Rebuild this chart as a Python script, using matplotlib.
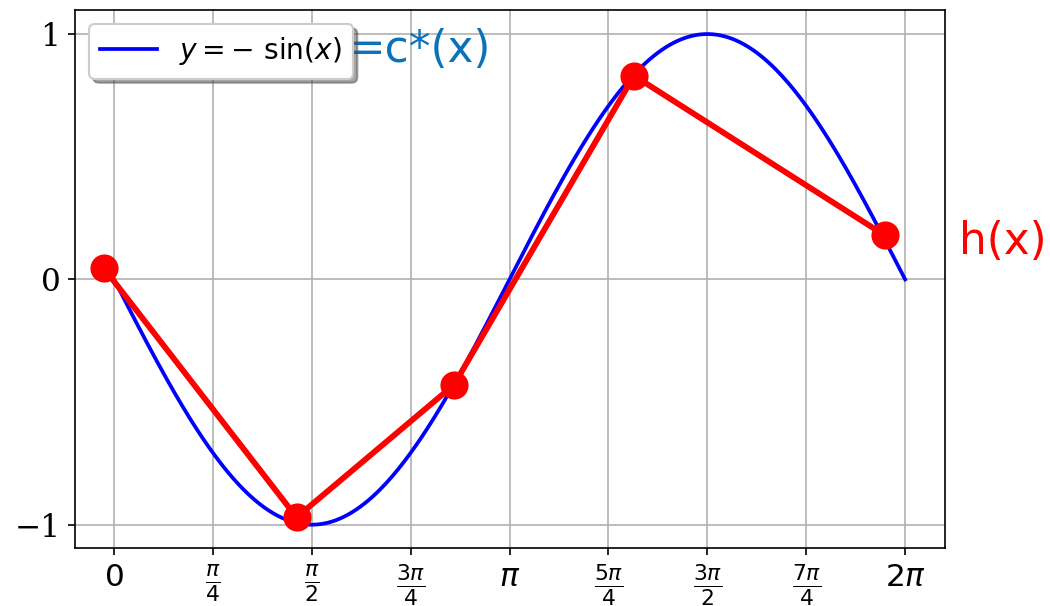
import numpy as np
import matplotlib
import matplotlib.pyplot as plt

matplotlib.use("Agg")

# red sample points h(x)
h_x = [-0.08, 1.45, 2.70, 4.13, 6.12]
h_y = [0.045, -0.97, -0.43, 0.83, 0.18]

x_ticks = [0, np.pi / 4, np.pi / 2, 3 * np.pi / 4, np.pi,
           5 * np.pi / 4, 3 * np.pi / 2, 7 * np.pi / 4, 2 * np.pi]
x_tick_labels = [r"$0$", r"$\frac{\pi}{4}$", r"$\frac{\pi}{2}$", r"$\frac{3\pi}{4}$",
                 r"$\pi$", r"$\frac{5\pi}{4}$", r"$\frac{3\pi}{2}$",
                 r"$\frac{7\pi}{4}$", r"$2\pi$"]
y_ticks = [-1, 0, 1]
y_tick_labels = ["\u22121", "0", "1"]

x = np.linspace(0, 2 * np.pi, 400)

fig = plt.figure(figsize=(7, 4.04), dpi=150)
ax = fig.add_axes([75 / 1050, 58 / 606, 870 / 1050, 538 / 606])

ax.plot(x, -np.sin(x), color="blue", lw=1.8, label=r"$y = -$ sin$(x)$")
ax.plot(h_x, h_y, color="red", lw=2.8, marker="o", markersize=12.5)

ax.set_xlim(-0.31, 6.60)
ax.set_ylim(-1.095, 1.098)
ax.set_xticks(x_ticks)
ax.set_xticklabels(x_tick_labels, fontsize=15)
ax.set_yticks(y_ticks)
ax.set_yticklabels(y_tick_labels, fontsize=15, family="DejaVu Serif")
ax.grid(True)

ax.legend(loc="upper left", shadow=True, fontsize=13.5)
ax.text(0.314, 0.927, "=c*(x)", transform=ax.transAxes, color="#0a72ba",
        fontsize=21, va="center", ha="left")
ax.text(1.016, 0.57, "h(x)", transform=ax.transAxes, color="red",
        fontsize=21, va="center", ha="left")

fig.savefig("out.png", dpi=150)
